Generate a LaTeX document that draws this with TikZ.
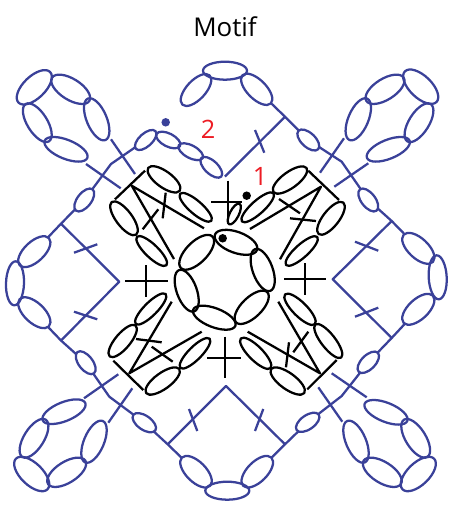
\documentclass[tikz,border=0pt]{standalone}
\usepackage{fontspec}
\setmainfont{Open Sans}
\usetikzlibrary{shapes.geometric}
\definecolor{motifblue}{HTML}{3A4199}
\definecolor{motifred}{HTML}{ED1C24}
\tikzset{
  blueink/.style={draw=motifblue,line width=1.7pt,line join=round},
  blackink/.style={draw=black,line width=1.7pt,line join=round},
  loopshape/.style={shape=ellipse,inner sep=0pt,outer sep=0pt},
  dotmark/.style={circle,inner sep=0pt,outer sep=0pt,minimum size=6.4pt},
  numlabel/.style={text=motifred,font=\fontsize{19}{20}\selectfont,inner sep=0pt},
}
% name, ink, x, y, angle, rx, ry
\newcommand{\ovl}[7]{\node[loopshape,#2,rotate=#5,minimum width=#6*1.5pt,minimum height=#7*1.5pt] (#1) at (#3,#4) {};}
% name, ink, x1, y1, x2, y2
\newcommand{\barseg}[6]{\coordinate (#1a) at (#3,#4); \coordinate (#1b) at (#5,#6); \draw[#2] (#1a) -- (#1b);}
\begin{document}
\begin{tikzpicture}[x=0.75pt,y=-0.75pt]
\useasboundingbox (0,0) rectangle (450,508);
\node[font=\fontsize{19.4}{21}\selectfont,inner sep=0pt] (title) at (225,27) {Motif};

% ---- blue round: corner clusters
\ovl{tla}{blueink}{34.3}{87.3}{44}{22}{11}
\ovl{tlb}{blueink}{70.7}{89.3}{-32}{22}{10.5}
\ovl{tlc}{blueink}{96.7}{119.3}{-67}{22.5}{10}
\ovl{tld}{blueink}{37.3}{122.7}{-58}{22}{10}
\ovl{tle}{blueink}{66}{149.3}{-22}{23}{9.5}
\ovl{tra}{blueink}{385}{89.3}{32}{22}{10.5}
\ovl{trb}{blueink}{420.7}{86.7}{-44}{22}{11}
\ovl{trc}{blueink}{419}{122.7}{58}{22}{10}
\ovl{trd}{blueink}{388.3}{149.3}{22}{23}{9.5}
\ovl{tre}{blueink}{358.3}{119.3}{67}{22.5}{10}
\ovl{bla}{blueink}{64}{411.7}{22}{23}{9.5}
\ovl{blb}{blueink}{34}{438.3}{58}{22}{10}
\ovl{blc}{blueink}{31.7}{474}{-44}{22}{11}
\ovl{bld}{blueink}{66.7}{472.3}{32}{22}{10.5}
\ovl{ble}{blueink}{94}{441.7}{67}{22.5}{10}
\ovl{bra}{blueink}{386}{412.3}{-22}{23}{9.5}
\ovl{brb}{blueink}{415.7}{438.3}{-58}{22}{10}
\ovl{brc}{blueink}{418.3}{474}{44}{22}{11}
\ovl{brd}{blueink}{382.3}{472.3}{-32}{22}{10.5}
\ovl{bre}{blueink}{356}{441.7}{-67}{22.5}{10}
% side clusters
\ovl{ta}{blueink}{196}{90}{47}{20}{9.5}
\ovl{tb}{blueink}{225}{70.7}{0}{22}{9}
\ovl{tc}{blueink}{256.7}{89.3}{-45}{20}{9.5}
\ovl{ra}{blueink}{418.3}{248.3}{-43}{20}{10}
\ovl{rb}{blueink}{437.7}{277.3}{-87}{22}{9}
\ovl{rc}{blueink}{418.3}{309.3}{43}{20}{10}
\ovl{ba}{blueink}{196}{471.7}{-45}{20}{10}
\ovl{bb}{blueink}{227.3}{490.7}{0}{22}{9}
\ovl{bc}{blueink}{257.3}{471.7}{45}{20}{10}
\ovl{la}{blueink}{34.3}{251.7}{43}{20}{10}
\ovl{lb}{blueink}{15}{283.3}{-92}{22}{9}
\ovl{lc}{blueink}{34.3}{312.7}{-43}{20}{10}
% start chain (top left)
\ovl{sa}{blueink}{145.7}{140}{42}{13.2}{6.5}
\ovl{sb}{blueink}{168.3}{140}{-27}{13.2}{6.5}
\ovl{sc}{blueink}{190.7}{151.7}{-28}{13.6}{6.3}
\ovl{sd}{blueink}{211.3}{167.3}{-43}{13.6}{6.5}
% small loops on the diagonals
\ovl{str}{blueink}{308.3}{140}{-43}{13.5}{7}
\ovl{srt}{blueink}{368.3}{200}{-52}{13.5}{7}
\ovl{srb}{blueink}{368.3}{362.3}{45}{13.5}{7}
\ovl{sbr}{blueink}{307.7}{422.3}{35}{13.5}{7}
\ovl{sbl}{blueink}{144.3}{422.7}{-35}{13.5}{7}
\ovl{slb}{blueink}{85.7}{362.7}{-52}{13.5}{7}
\ovl{slt}{blueink}{84.3}{200}{52}{13.5}{7}

% junctions, elbows, tips
\coordinate (jT) at (285,116.7);
\coordinate (kTR) at (341.7,161.7);
\coordinate (jR1) at (391.7,221);
\coordinate (jR2) at (391.7,338);
\coordinate (kBR) at (341.7,396);
\coordinate (jB2) at (285,444.3);
\coordinate (jB1) at (167.7,444.3);
\coordinate (kBL) at (109.3,396.7);
\coordinate (jL2) at (61,340.5);
\coordinate (jL1) at (61,223.7);
\coordinate (kTL) at (111,164);
\coordinate (tipT) at (225,176.5);
\coordinate (tipR) at (332.7,279.3);
\coordinate (tipB) at (226,386);
\coordinate (tipL) at (119.3,281.7);

\draw[blueink] (tc) -- (jT) -- (str);
\draw[blueink] (str) -- (kTR) -- (srt);
\draw[blueink] (srt) -- (jR1) -- (ra);
\draw[blueink] (rc) -- (jR2) -- (srb);
\draw[blueink] (srb) -- (kBR) -- (sbr);
\draw[blueink] (sbr) -- (jB2) -- (bc);
\draw[blueink] (ba) -- (jB1) -- (sbl);
\draw[blueink] (sbl) -- (kBL) -- (slb);
\draw[blueink] (slb) -- (jL2) -- (lc);
\draw[blueink] (la) -- (jL1) -- (slt);
\draw[blueink] (slt) -- (kTL) -- (sa);
\draw[blueink] (jT) -- (tipT);
\draw[blueink] (jR1) -- (tipR) -- (jR2);
\draw[blueink] (jB1) -- (tipB) -- (jB2);
\draw[blueink] (jL1) -- (tipL) -- (jL2);

% blue stitches
\barseg{ba1}{blueink}{255}{130}{264.3}{152.7}
\barseg{ba2}{blueink}{355}{241.7}{378.3}{250.7}
\barseg{ba3}{blueink}{355}{316.7}{378.3}{307.7}
\barseg{ba4}{blueink}{263.3}{409}{255}{431}
\barseg{ba5}{blueink}{189}{409}{197.3}{431}
\barseg{ba6}{blueink}{74}{311.7}{97.3}{319.3}
\barseg{ba7}{blueink}{74}{252.7}{97.3}{244.3}
\barseg{ba8}{blueink}{111}{139.3}{135}{174}
\barseg{ba9}{blueink}{86}{164}{120.7}{188.3}
\barseg{bb1}{blueink}{320}{172.7}{344}{138.3}
\barseg{bb2}{blueink}{334.3}{186.7}{368.3}{163.3}
\barseg{bb3}{blueink}{331.7}{373.3}{366.7}{397.3}
\barseg{bb4}{blueink}{318.3}{387.3}{342.3}{421.7}
\barseg{bb5}{blueink}{84}{398.3}{118.3}{374.3}
\barseg{bb6}{blueink}{108.3}{422.7}{132.3}{388.3}

% ---- black ring
\ovl{r1}{blackink}{236}{242.3}{-20}{22.4}{10.5}
\ovl{r2}{blackink}{262.7}{270}{-70}{22.2}{10}
\ovl{r3}{blackink}{251.7}{307.3}{44}{21.7}{10}
\ovl{r4}{blackink}{214.3}{317.7}{-21}{22.6}{9.5}
\ovl{r5}{blackink}{186.7}{290.7}{-70}{22}{10}
\ovl{r6}{blackink}{196.7}{252.3}{45}{22.3}{10.5}
\ovl{r7}{blackink}{234.3}{214}{63}{11.5}{4.5}

% black crosses
\barseg{ca}{blackink}{227.7}{180.7}{227.7}{224}
\barseg{cb}{blackink}{211}{201.7}{241.7}{201.7}
\barseg{cc}{blackink}{125}{281}{167.7}{281}
\barseg{cd}{blackink}{146}{265}{146}{297.3}
\barseg{ce}{blackink}{284}{279}{326}{279}
\barseg{cf}{blackink}{305}{263.3}{305}{295}
\barseg{cg}{blackink}{225}{336.7}{225}{378.3}
\barseg{ch}{blackink}{207.3}{358.3}{240.7}{358.3}

% black clusters: top left
\barseg{tlbar}{blackink}{115}{199.3}{145}{170.7}
\ovl{k1}{blackink}{164}{179.3}{-36}{19.5}{8}
\ovl{k2}{blackink}{195.7}{207.3}{-41}{20.7}{6.5}
\ovl{k3}{blackink}{124}{218.3}{-53}{20.4}{8}
\ovl{k4}{blackink}{151.7}{251}{-44}{20.5}{6.5}
\coordinate (ak1) at (131.7,185.7);
\coordinate (ak1a) at (204,228.3);
\coordinate (ak1b) at (174,259);
\draw[blackink] (ak1a) -- (ak1) -- (ak1b);
\barseg{t1}{blackink}{165.7}{192.7}{162.7}{218.3}
\barseg{t2}{blackink}{158.3}{209.3}{142.7}{229.3}
% top right
\barseg{trbar}{blackink}{308.3}{170.7}{339}{200}
\ovl{k5}{blackink}{290}{180}{36}{20.5}{8}
\ovl{k6}{blackink}{257.7}{207.3}{42}{21.2}{6.5}
\ovl{k7}{blackink}{331}{218.3}{52}{20}{8}
\ovl{k8}{blackink}{301.7}{251}{42}{21}{6.5}
\coordinate (ak2) at (321,186.7);
\coordinate (ak2a) at (250,229);
\coordinate (ak2b) at (280,259.3);
\draw[blackink] (ak2a) -- (ak2) -- (ak2b);
\barseg{t3}{blackink}{279}{199}{300}{213.3}
\barseg{t4}{blackink}{290}{218.3}{316}{221}
% bottom left
\barseg{blbar}{blackink}{113.3}{360.7}{143.3}{390}
\ovl{k9}{blackink}{150.7}{309}{45}{21.2}{6.5}
\ovl{k10}{blackink}{122.7}{341}{50}{20.2}{7.5}
\ovl{k11}{blackink}{195}{353.3}{45}{20.7}{6.5}
\ovl{k12}{blackink}{162.7}{381}{36}{20.5}{8}
\coordinate (ak3) at (129.3,373.3);
\coordinate (ak3a) at (171.7,301.7);
\coordinate (ak3b) at (201.7,331.7);
\draw[blackink] (ak3a) -- (ak3) -- (ak3b);
\barseg{t5}{blackink}{136}{339}{161.7}{342.3}
\barseg{t6}{blackink}{151.7}{346.7}{172.7}{361.7}
% bottom right
\barseg{brbar}{blackink}{307.3}{389.3}{336.7}{360}
\ovl{k13}{blackink}{300}{309.3}{-45}{21.1}{7}
\ovl{k14}{blackink}{328.3}{341}{-52}{21}{7}
\ovl{k15}{blackink}{255.7}{353.3}{-45}{21}{7}
\ovl{k16}{blackink}{287.7}{381}{-36}{20.5}{8}
\coordinate (ak4) at (320,373.3);
\coordinate (ak4a) at (278.3,301.7);
\coordinate (ak4b) at (247.7,331.7);
\draw[blackink] (ak4a) -- (ak4) -- (ak4b);
\barseg{t7}{blackink}{308.3}{331.7}{293.3}{352.3}
\barseg{t8}{blackink}{289}{342.3}{286}{367.3}

% dots and numbers
\node[dotmark,fill=motifblue] (dot2) at (165.7,122.3) {};
\node[dotmark,fill=black] (dot1) at (246.7,195.7) {};
\node[dotmark,fill=black] (dot0) at (222.7,238.3) {};
\node[numlabel] (n1) at (260,176.7) {1};
\node[numlabel] (n2) at (208,129) {2};
\end{tikzpicture}
\end{document}
